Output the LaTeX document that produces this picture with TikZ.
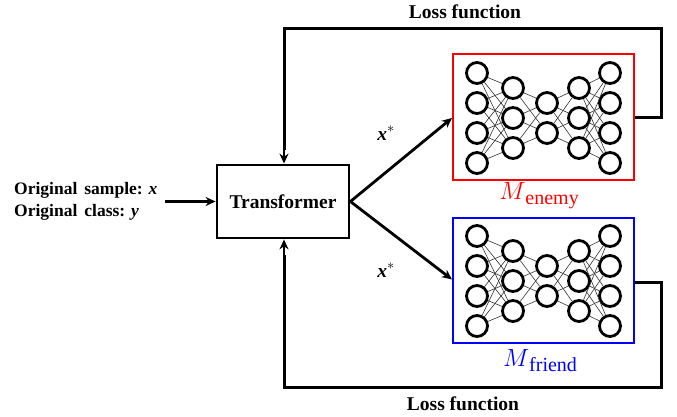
\documentclass[tikz,border=0pt]{standalone}
\usepackage{fontspec}
\setmainfont{Liberation Serif}
\usetikzlibrary{arrows.meta}
\tikzset{
  lbl/.style={font=\bfseries\fontsize{19.5}{22}\selectfont, inner sep=0pt},
  inlbl/.style={font=\bfseries\fontsize{17.5}{22}\selectfont, inner sep=0pt},
  mbox/.style={draw=black, line width=2.8pt, minimum width=132pt, minimum height=73pt, inner sep=0pt},
  netbox/.style={line width=2pt, minimum width=181pt, minimum height=125pt, inner sep=0pt},
  neuron/.style={circle, draw=black, line width=2.8pt, minimum size=21pt, inner sep=0pt},
  wire/.style={line width=0.6pt, black!80},
  fb/.style={line width=3pt, line join=miter},
  arr/.style={line width=2.8pt, -{Stealth[length=10pt,width=9pt]}},
  mlabel/.style={font=\fontsize{25}{28}\selectfont, inner sep=0pt},
}
\newcommand{\drawnet}[2]{% #1 prefix, #2 center y
  \foreach \i/\yy in {1/-45,2/-15,3/15,4/45}{
    \node[neuron] (#1a\i) at (477,#2+\yy) {};
    \node[neuron] (#1e\i) at (610,#2+\yy) {};
  }
  \foreach \i/\yy in {1/-30,2/0,3/30}{
    \node[neuron] (#1b\i) at (513,#2+\yy) {};
    \node[neuron] (#1d\i) at (579,#2+\yy) {};
  }
  \foreach \i/\yy in {1/-15,2/15}{
    \node[neuron] (#1c\i) at (547,#2+\yy) {};
  }
  \foreach \i in {1,...,4}{\foreach \j in {1,2,3}{
    \draw[wire] (#1a\i) -- (#1b\j);
    \draw[wire] (#1d\j) -- (#1e\i);
  }}
  \foreach \i in {1,2,3}{\foreach \j in {1,2}{
    \draw[wire] (#1b\i) -- (#1c\j);
    \draw[wire] (#1c\j) -- (#1d\i);
  }}
}
\newcommand{\msub}[1]{$M$\raisebox{-5pt}{\fontsize{20}{22}\selectfont$\mathrm{#1}$}}
\begin{document}
\begin{tikzpicture}[x=1pt,y=-1pt]
\useasboundingbox (0,0) rectangle (677,417);
% boxes
\node[mbox] (tr) at (283,201.5) {};
\node[lbl] at (tr.center) {Transformer};
\node[netbox, draw=red] (en) at (543.5,117) {};
\node[netbox, draw=blue] (fr) at (543.5,280.5) {};
\drawnet{p}{118}
\drawnet{q}{281}
\node[mlabel, text=red] (enl) at (539,196) {\msub{enemy}};
\node[mlabel, text=blue] (frl) at (540,361) {\msub{friend}};
% input
\node[inlbl, anchor=west, align=left] (inp) at (14,201) {Original\hspace{0.4em}sample: \textit{x}\\[0pt]Original\hspace{0.4em}class: \textit{y}};
\coordinate (ins) at (165,201.5);
\draw[arr] (ins) -- (tr.west);
% outputs
\coordinate (trr) at (tr.east);
\draw[arr] (trr) -- ([yshift=-1pt]en.west);
\draw[arr] (trr) -- ([yshift=1pt]fr.west);
\node[lbl] (xs1) at (386,133) {\textit{x}$^{*}$};
\node[lbl] (xs2) at (386,270) {\textit{x}$^{*}$};
% feedback
\coordinate (t1) at (661,118);
\coordinate (t2) at (661,29);
\coordinate (t3) at (284,29);
\draw[fb] (en.east |- t1) -- (t1) -- (t2) -- (t3) -- (284,150);
\draw[arr] (284,140) -- ([xshift=1pt]tr.north);
\coordinate (b1) at (661,282);
\coordinate (b2) at (661,387);
\coordinate (b3) at (284,387);
\draw[fb] (fr.east |- b1) -- (b1) -- (b2) -- (b3) -- (284,255);
\draw[arr] (284,260) -- ([xshift=1pt]tr.south);
\node[lbl] (lf1) at (465,12) {Loss function};
\node[lbl] (lf2) at (463,404) {Loss function};
\end{tikzpicture}
\end{document}
